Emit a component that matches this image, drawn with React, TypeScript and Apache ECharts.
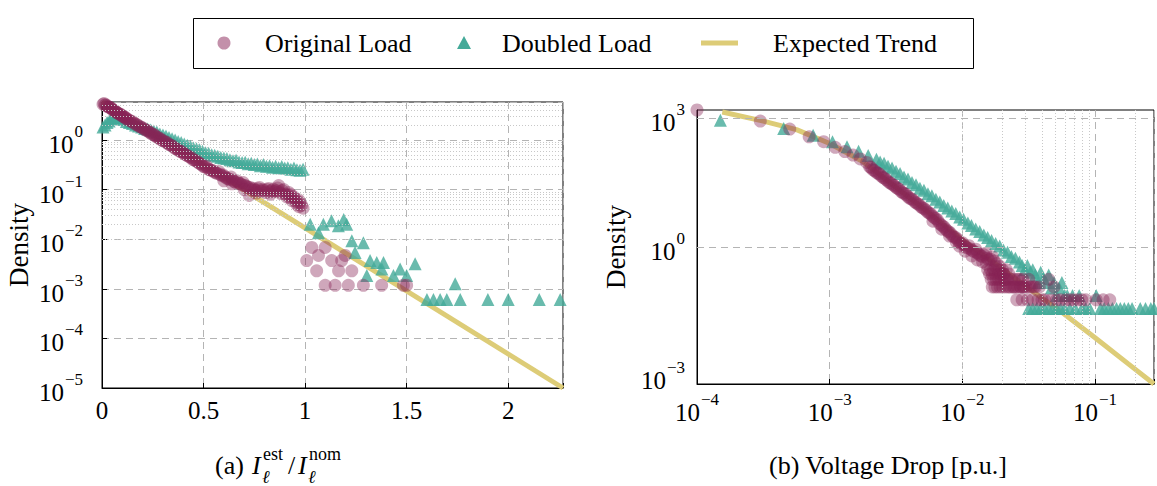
import React, { useEffect, useRef } from "react";
import * as echarts from "echarts";

// ---------- data: panel (a) current ratio I_est / I_nom ----------
const currentOriginal: [number, number][] = [
  [0.005, 5.2], [0.01, 5.4], [0.015, 5.0], [0.02, 5.1], [0.025, 4.8], [0.03, 4.6], [0.035, 4.57], [0.04, 4.5],
  [0.045, 4.37], [0.05, 4.1], [0.055, 3.98], [0.06, 3.9], [0.065, 3.8], [0.07, 3.6], [0.075, 3.55], [0.08, 3.4],
  [0.085, 3.31], [0.09, 3.3], [0.095, 3.16], [0.1, 3.0], [0.105, 2.95], [0.11, 2.9], [0.115, 2.82], [0.12, 2.65],
  [0.125, 2.63], [0.1325, 2.5], [0.14, 2.4], [0.1475, 2.35], [0.155, 2.24], [0.1625, 2.1], [0.17, 2.04],
  [0.1775, 1.97], [0.185, 1.86], [0.1925, 1.8], [0.2, 1.74], [0.2075, 1.64], [0.215, 1.58], [0.2225, 1.55],
  [0.23, 1.48], [0.2375, 1.38], [0.245, 1.32], [0.2525, 1.3], [0.26, 1.23], [0.2675, 1.15], [0.275, 1.12],
  [0.2825, 1.08], [0.29, 1.02], [0.2975, 0.97], [0.305, 0.95], [0.3125, 0.9], [0.32, 0.89], [0.3275, 0.82],
  [0.335, 0.79], [0.3425, 0.77], [0.35, 0.74], [0.3575, 0.68], [0.365, 0.66], [0.3725, 0.64], [0.38, 0.6],
  [0.3875, 0.58], [0.395, 0.575], [0.4025, 0.53], [0.41, 0.51], [0.4175, 0.49], [0.425, 0.47], [0.4325, 0.45],
  [0.44, 0.44], [0.4475, 0.4], [0.455, 0.39], [0.4625, 0.38], [0.47, 0.36], [0.4775, 0.34], [0.485, 0.33],
  [0.4925, 0.31], [0.5, 0.29], [0.5075, 0.285], [0.515, 0.295], [0.5225, 0.26], [0.53, 0.25], [0.5375, 0.245],
  [0.545, 0.24], [0.5525, 0.225], [0.56, 0.22], [0.5675, 0.21], [0.575, 0.23], [0.5825, 0.2], [0.59, 0.19],
  [0.5975, 0.195], [0.605, 0.18], [0.6125, 0.17], [0.62, 0.166], [0.6275, 0.16], [0.635, 0.178], [0.6425, 0.155],
  [0.65, 0.145], [0.6575, 0.14], [0.665, 0.15], [0.6725, 0.135], [0.68, 0.132], [0.6875, 0.125], [0.695, 0.138],
  [0.7025, 0.12], [0.71, 0.117], [0.7175, 0.112], [0.725, 0.076], [0.73, 0.11], [0.7375, 0.1], [0.745, 0.105],
  [0.7525, 0.098], [0.76, 0.095], [0.7675, 0.104], [0.775, 0.11], [0.7825, 0.093], [0.79, 0.1], [0.7975, 0.096],
  [0.805, 0.087], [0.8125, 0.1], [0.82, 0.105], [0.8275, 0.09], [0.835, 0.095], [0.8425, 0.102], [0.85, 0.091],
  [0.8575, 0.096], [0.865, 0.107], [0.8725, 0.09], [0.88, 0.083], [0.8875, 0.095], [0.895, 0.1], [0.9025, 0.08],
  [0.91, 0.071], [0.915, 0.078], [0.92, 0.087], [0.9275, 0.068], [0.935, 0.06], [0.9425, 0.072], [0.95, 0.066],
  [0.955, 0.058], [0.96, 0.05], [0.9675, 0.062], [0.975, 0.055], [0.9825, 0.048], [0.99, 0.042],
  [0.6, 0.15], [0.64, 0.13], [0.7, 0.1], [0.76, 0.085], [0.83, 0.08], [0.87, 0.12], [0.93, 0.078], [0.97, 0.045],
  [1.008, 0.0037], [1.033, 0.0068], [1.057, 0.0023], [1.066, 0.0047], [1.099, 0.0068], [1.131, 0.0037],
  [1.165, 0.0023], [1.18, 0.0037], [1.197, 0.0047], [1.23, 0.0023], [1.099, 0.00117], [1.148, 0.00117],
  [1.213, 0.00117], [1.287, 0.00117], [1.377, 0.00117], [1.484, 0.00117], [1.5, 0.00117],
];

const currentDoubled: [number, number][] = [
  [0.005, 1.82], [0.015, 2.0], [0.025, 2.24], [0.035, 2.4], [0.045, 2.63], [0.055, 2.75], [0.065, 2.88],
  [0.075, 2.95], [0.085, 2.82], [0.095, 2.75], [0.105, 2.57], [0.12, 2.34], [0.135, 2.24], [0.15, 2.14],
  [0.165, 2.0], [0.18, 1.9], [0.195, 1.82], [0.21, 1.7], [0.225, 1.66], [0.24, 1.58], [0.255, 1.51],
  [0.27, 1.45], [0.285, 1.32], [0.3, 1.26], [0.315, 1.2], [0.33, 1.12], [0.345, 1.05], [0.36, 1.0],
  [0.375, 0.93], [0.39, 0.89], [0.405, 0.83], [0.42, 0.78], [0.435, 0.74], [0.45, 0.69], [0.465, 0.66],
  [0.48, 0.63], [0.495, 0.59], [0.51, 0.55], [0.525, 0.54], [0.54, 0.5], [0.555, 0.49], [0.57, 0.47],
  [0.585, 0.44], [0.6, 0.43], [0.615, 0.42], [0.63, 0.4], [0.645, 0.38], [0.66, 0.39], [0.675, 0.36],
  [0.69, 0.35], [0.705, 0.355], [0.72, 0.33], [0.735, 0.34], [0.75, 0.32], [0.765, 0.325], [0.78, 0.3],
  [0.795, 0.32], [0.81, 0.295], [0.825, 0.3], [0.84, 0.28], [0.855, 0.295], [0.87, 0.275], [0.885, 0.29],
  [0.9, 0.27], [0.915, 0.275], [0.93, 0.257], [0.945, 0.27], [0.96, 0.25], [0.975, 0.245], [0.99, 0.257],
  [1.025, 0.02], [1.066, 0.0135], [1.09, 0.02], [1.13, 0.0234], [1.164, 0.0186], [1.19, 0.025],
  [1.205, 0.02], [1.23, 0.0093], [1.287, 0.0085], [1.246, 0.0054], [1.32, 0.0037], [1.353, 0.0034],
  [1.386, 0.0034], [1.304, 0.00186], [1.378, 0.0025], [1.435, 0.00186], [1.468, 0.0025], [1.5, 0.00186],
  [1.542, 0.0032], [1.739, 0.00126], [1.6, 0.00061], [1.632, 0.00061], [1.665, 0.00061], [1.698, 0.00061],
  [1.764, 0.00061], [1.9, 0.00061], [2.0, 0.00061], [2.153, 0.00061], [2.256, 0.00061],
];

const currentTrend: [number, number][] = [
  [0, 5.8],
  [2.27, 1e-5],
];

// ---------- data: panel (b) voltage drop [p.u.] ----------
const voltageOriginal: [number, number][] = [
  [1.0e-4, 1540], [3.0e-4, 851], [5.0e-4, 555], [7.0e-4, 367], [9.0e-4, 282], [1.1e-3, 209], [1.3e-3, 166],
  [1.5e-3, 138], [1.7e-3, 112], [1.9e-3, 93],
  [2.0e-3, 74], [2.05e-3, 70], [2.11e-3, 63], [2.17e-3, 60], [2.24e-3, 55], [2.3e-3, 52], [2.37e-3, 50],
  [2.44e-3, 45], [2.51e-3, 41.7], [2.58e-3, 40], [2.66e-3, 37], [2.74e-3, 34], [2.82e-3, 31.6], [2.9e-3, 30],
  [2.99e-3, 28.2], [3.07e-3, 26.5], [3.16e-3, 24.5], [3.25e-3, 23], [3.35e-3, 21.9], [3.45e-3, 19.5],
  [3.55e-3, 18.2], [3.65e-3, 17.8], [3.76e-3, 16.6], [3.87e-3, 15], [3.98e-3, 13.8], [4.1e-3, 13.3],
  [4.22e-3, 12.6], [4.35e-3, 11.4], [4.47e-3, 10.7], [4.6e-3, 10.2], [4.73e-3, 9.5], [4.87e-3, 8.6],
  [5.01e-3, 8.1], [5.16e-3, 7.8], [5.31e-3, 7.2], [5.46e-3, 6.5], [5.62e-3, 6.2], [5.79e-3, 5.8],
  [5.96e-3, 5.2], [6.13e-3, 4.8], [6.31e-3, 4.6], [6.5e-3, 4.2], [6.68e-3, 3.6], [6.88e-3, 3.3],
  [7.08e-3, 3.1], [7.29e-3, 2.9], [7.5e-3, 2.57], [7.72e-3, 2.35], [7.94e-3, 2.24], [8.17e-3, 2.05],
  [8.41e-3, 1.82], [8.66e-3, 1.7], [8.91e-3, 1.66], [9.17e-3, 1.5], [9.44e-3, 1.32], [9.72e-3, 1.22],
  [0.01, 1.26], [0.0103, 1.12], [0.0106, 1.0], [0.0109, 0.95], [0.0112, 1.07], [0.0115, 0.9], [0.0119, 0.83],
  [0.0122, 0.78], [0.0126, 0.89], [0.0129, 0.74], [0.0133, 0.68], [0.0137, 0.63], [0.0141, 0.6], [0.0145, 0.66],
  [0.015, 0.72], [0.0154, 0.55], [0.0158, 0.5], [0.0163, 0.52], [0.0168, 0.59],
  [6.0e-3, 4.0], [7.0e-3, 2.6], [8.0e-3, 1.8], [9.0e-3, 1.3], [0.0095, 1.05], [0.0105, 0.8], [0.0118, 0.62],
  [0.013, 0.5], [0.0142, 0.45], [0.0152, 0.4],
  [0.0155, 0.295], [0.0163, 0.295], [0.0172, 0.295], [0.016, 0.236], [0.0168, 0.236], [0.0177, 0.236],
  [0.0188, 0.236], [0.0205, 0.236], [0.0165, 0.177], [0.0172, 0.177], [0.018, 0.177], [0.0188, 0.177],
  [0.0197, 0.177], [0.0206, 0.177], [0.0216, 0.177], [0.026, 0.177], [0.0285, 0.177], [0.0168, 0.118],
  [0.0176, 0.118], [0.0184, 0.118], [0.0193, 0.118], [0.0202, 0.118], [0.0212, 0.118], [0.0222, 0.118],
  [0.0245, 0.118], [0.0275, 0.118], [0.029, 0.118], [0.032, 0.118], [0.0345, 0.118],
  [0.0174, 0.471], [0.0178, 0.353], [0.0182, 0.412], [0.0186, 0.295], [0.0191, 0.353], [0.0195, 0.236],
  [0.02, 0.295], [0.0204, 0.236], [0.0209, 0.177], [0.0214, 0.295], [0.0219, 0.177], [0.0224, 0.236],
  [0.0229, 0.118], [0.0234, 0.177], [0.024, 0.118], [0.0245, 0.177], [0.0251, 0.118], [0.0257, 0.0589],
  [0.0263, 0.118], [0.0269, 0.177], [0.0275, 0.118], [0.0282, 0.0589], [0.0288, 0.118], [0.0302, 0.118],
  [0.0309, 0.0589], [0.0316, 0.177], [0.0331, 0.118], [0.0339, 0.0589], [0.0355, 0.118], [0.0372, 0.0589],
  [0.038, 0.118], [0.0398, 0.0589], [0.0417, 0.0589], [0.0447, 0.177], [0.049, 0.118], [0.0468, 0.0589],
  [0.0513, 0.0589], [0.055, 0.0589], [0.0603, 0.0589], [0.0646, 0.0589], [0.0692, 0.0589], [0.0741, 0.0589],
  [0.0794, 0.0589], [0.0851, 0.0589], [0.102, 0.0589], [0.115, 0.0589], [0.129, 0.0589],
];

const voltageDoubled: [number, number][] = [
  [1.5e-4, 891], [4.5e-4, 575], [7.5e-4, 398], [1.05e-3, 282], [1.35e-3, 214], [1.65e-3, 170], [1.95e-3, 135],
  [2.25e-3, 110], [2.4e-3, 95], [2.57e-3, 89], [2.75e-3, 76], [2.95e-3, 69], [3.16e-3, 57.5], [3.39e-3, 51],
  [3.63e-3, 42.7], [3.89e-3, 38], [4.17e-3, 31.6], [4.47e-3, 28.2], [4.79e-3, 23.4], [5.13e-3, 20.9],
  [5.5e-3, 17.4], [5.89e-3, 15.5], [6.31e-3, 12.9], [6.76e-3, 11.2], [7.24e-3, 9.3], [7.76e-3, 8.1],
  [8.32e-3, 6.9], [8.91e-3, 6.0], [9.55e-3, 5.0], [0.0102, 4.4], [0.011, 3.6], [0.0117, 3.16], [0.0126, 2.63],
  [0.0135, 2.29], [0.0145, 1.9], [0.0155, 1.66], [0.0166, 1.41], [0.0178, 1.2], [0.0191, 1.05], [0.0204, 0.85],
  [0.0219, 0.76], [0.0234, 0.6], [0.0251, 0.55], [0.0269, 0.446], [0.0282, 0.372], [0.0295, 0.297],
  [0.0309, 0.372], [0.0324, 0.26], [0.0339, 0.297], [0.0355, 0.223], [0.0372, 0.149], [0.0389, 0.26],
  [0.0407, 0.186], [0.0427, 0.149], [0.0447, 0.223], [0.0468, 0.111], [0.049, 0.149], [0.0513, 0.0743],
  [0.0537, 0.111], [0.0562, 0.149], [0.0589, 0.0743], [0.0617, 0.0743], [0.0676, 0.0743], [0.0759, 0.0743],
  [0.102, 0.0743],
  [0.0316, 0.0372], [0.0339, 0.0372], [0.0363, 0.0372], [0.0389, 0.0372], [0.0417, 0.0372], [0.0447, 0.0372],
  [0.0479, 0.0372], [0.0513, 0.0372], [0.055, 0.0372], [0.0589, 0.0372], [0.0646, 0.0372], [0.0708, 0.0372],
  [0.0794, 0.0372], [0.0851, 0.0372], [0.0912, 0.0372], [0.11, 0.0372], [0.117, 0.0372], [0.126, 0.0372],
  [0.135, 0.0372], [0.145, 0.0372], [0.155, 0.0372], [0.166, 0.0372], [0.178, 0.0372], [0.19, 0.0372],
  [0.219, 0.0372], [0.24, 0.0372], [0.263, 0.0372], [0.278, 0.0372],
];

const voltageTrend: [number, number][] = [
  [1.55e-4, 1380], [3.16e-4, 851], [5.62e-4, 537], [1e-3, 255], [1.78e-3, 97.7], [3.16e-3, 24.5],
  [5.62e-3, 6.2], [0.01, 1.45], [0.0178, 0.4], [0.0316, 0.108], [0.0562, 0.0302], [0.1, 7.76e-3],
  [0.178, 1.91e-3], [0.278, 6.5e-4],
];

const seriesNames = ["Original Load", "Doubled Load", "Expected Trend"];

// ---------- styling ----------
const SERIF = '"Liberation Serif", "DejaVu Serif", serif';
const ROSE = "rgba(136, 34, 85, 0.5)";
const TEAL = "#44AA99";
const SAND = "#DDCC77";
const MAJOR_GRID = "#b4b4b4";
const MINOR_GRID = "#c8c8c8";
const FONT = 25;
const TEXT = 26;
const MARK = 13;

const powerRich = {
  b: { fontFamily: SERIF, fontSize: FONT, color: "#000", lineHeight: 34, verticalAlign: "bottom" },
  s: { fontFamily: SERIF, fontSize: 17, color: "#000", lineHeight: 20, verticalAlign: "top", padding: [0, 0, 0, 1] },
};

function powerLabel(v: number, step = 1): string {
  const e = Math.round(Math.log10(v));
  if (Math.abs(v / Math.pow(10, e) - 1) > 1e-6) return "";
  if (e % step !== 0) return "";
  const exp = e < 0 ? "\u2212" + -e : String(e);
  return `{b|10}{s|${exp}}`;
}

// 2..9 x 10^k positions between lo and hi for dotted minor grid lines
function minorLogLines(lo: number, hi: number): number[] {
  const out: number[] = [];
  for (let k = Math.floor(Math.log10(lo)); k <= Math.ceil(Math.log10(hi)); k++) {
    for (let m = 2; m <= 9; m++) {
      const v = m * Math.pow(10, k);
      if (v > lo && v < hi) out.push(v);
    }
  }
  return out;
}

const axisBlack = { show: true, lineStyle: { color: "#000", width: 1 } };
const dashed = { show: true, lineStyle: { color: MAJOR_GRID, type: [7, 5], width: 1 } };

function gridLineSeries(xi: number, lines: { xAxis?: number; yAxis?: number }[], dotted: boolean) {
  return {
    type: "scatter",
    xAxisIndex: xi,
    yAxisIndex: xi,
    data: [],
    silent: true,
    z: 1,
    markLine: {
      silent: true,
      animation: false,
      symbol: ["none", "none"],
      label: { show: false },
      lineStyle: dotted
        ? { color: MINOR_GRID, type: [1, 2], width: 1 }
        : { color: MAJOR_GRID, type: [7, 5], width: 1 },
      emphasis: { disabled: true },
      data: lines,
    },
  };
}

function txt(x: number, y: number, text: string, size: number, extra: Record<string, unknown> = {}) {
  return {
    type: "text",
    x,
    y,
    silent: true,
    style: { text, font: `${size}px ${SERIF}`, fill: "#000", textVerticalAlign: "middle", ...extra },
  };
}

export default function App() {
  const ref = useRef<HTMLDivElement>(null);

  useEffect(() => {
    if (!ref.current) return;
    const chart = echarts.init(ref.current, undefined, { renderer: "svg" });

    const leftMinor = minorLogLines(1e-5, 5.8).map((v) => ({ yAxis: v }));
    const rightMinor = minorLogLines(1e-4, 0.278).map((v) => ({ xAxis: v }));
    const rightMajorY = [1e-3, 1, 1e3].map((v) => ({ yAxis: v }));

    const legendY = 43;

    const option = {
      animation: false,
      textStyle: { fontFamily: SERIF },
      grid: [
        { left: 102, top: 102, width: 461, height: 286, show: true, borderColor: "#000", borderWidth: 1 },
        { left: 697, top: 110, width: 458, height: 274, show: true, borderColor: "#000", borderWidth: 1 },
      ],
      xAxis: [
        {
          type: "value",
          gridIndex: 0,
          min: 0,
          max: 2.27,
          interval: 0.5,
          axisLine: axisBlack,
          axisTick: { show: true, inside: true, length: 5, lineStyle: { color: "#000" } },
          axisLabel: {
            margin: 10,
            fontFamily: SERIF,
            fontSize: FONT,
            color: "#000",
            lineHeight: 25,
            formatter: (v: number) => (Math.abs(v * 2 - Math.round(v * 2)) < 1e-6 ? String(v) : ""),
          },
          splitLine: dashed,
        },
        {
          type: "log",
          logBase: 10,
          gridIndex: 1,
          min: 1e-4,
          max: 0.278,
          axisLine: axisBlack,
          axisTick: { show: true, inside: true, length: 5, lineStyle: { color: "#000" } },
          axisLabel: { margin: 7, formatter: (v: number) => powerLabel(v), rich: powerRich },
          splitLine: dashed,
        },
      ],
      yAxis: [
        {
          type: "log",
          logBase: 10,
          gridIndex: 0,
          min: 1e-5,
          max: 5.8,
          name: "Density",
          nameLocation: "middle",
          nameGap: 70,
          nameTextStyle: { fontFamily: SERIF, fontSize: TEXT + 1, color: "#000" },
          axisLine: axisBlack,
          axisTick: { show: true, inside: true, length: 5, lineStyle: { color: "#000" } },
          axisLabel: { margin: 19, formatter: (v: number) => powerLabel(v), rich: powerRich },
          splitLine: dashed,
        },
        {
          type: "log",
          logBase: 10,
          gridIndex: 1,
          min: 6.5e-4,
          max: 1540,
          name: "Density",
          nameLocation: "middle",
          nameGap: 68,
          nameTextStyle: { fontFamily: SERIF, fontSize: TEXT + 1, color: "#000" },
          axisLine: axisBlack,
          axisTick: { show: false },
          axisLabel: { margin: 12, formatter: (v: number) => powerLabel(v, 3), rich: powerRich },
          splitLine: { show: false },
        },
      ],
      series: [
        gridLineSeries(0, leftMinor, true),
        gridLineSeries(1, rightMinor, true),
        gridLineSeries(1, rightMajorY, false),
        {
          name: seriesNames[2],
          type: "line",
          xAxisIndex: 0,
          yAxisIndex: 0,
          z: 2,
          data: currentTrend,
          symbol: "none",
          showSymbol: false,
          lineStyle: { color: SAND, width: 5 },
          itemStyle: { color: SAND },
        },
        {
          name: seriesNames[1],
          type: "scatter",
          xAxisIndex: 0,
          yAxisIndex: 0,
          z: 3,
          data: currentDoubled,
          symbol: "triangle",
          symbolSize: MARK,
          clip: false,
          itemStyle: { color: TEAL },
        },
        {
          name: seriesNames[0],
          type: "scatter",
          xAxisIndex: 0,
          yAxisIndex: 0,
          z: 4,
          data: currentOriginal,
          symbol: "circle",
          symbolSize: MARK,
          clip: false,
          itemStyle: { color: ROSE },
        },
        {
          name: seriesNames[2],
          type: "line",
          xAxisIndex: 1,
          yAxisIndex: 1,
          z: 2,
          data: voltageTrend,
          symbol: "none",
          showSymbol: false,
          lineStyle: { color: SAND, width: 5 },
          itemStyle: { color: SAND },
        },
        {
          name: seriesNames[1],
          type: "scatter",
          xAxisIndex: 1,
          yAxisIndex: 1,
          z: 3,
          data: voltageDoubled,
          symbol: "triangle",
          symbolSize: MARK,
          clip: false,
          itemStyle: { color: TEAL },
        },
        {
          name: seriesNames[0],
          type: "scatter",
          xAxisIndex: 1,
          yAxisIndex: 1,
          z: 4,
          data: voltageOriginal,
          symbol: "circle",
          symbolSize: MARK,
          clip: false,
          itemStyle: { color: ROSE },
        },
      ],
      graphic: [
        // legend box with the three keys
        {
          type: "rect",
          silent: true,
          shape: { x: 193.5, y: 18.5, width: 780, height: 50 },
          style: { fill: "#fff", stroke: "#000", lineWidth: 1 },
        },
        { type: "circle", silent: true, shape: { cx: 224, cy: legendY, r: 6.5 }, style: { fill: ROSE } },
        txt(265, legendY, seriesNames[0], TEXT),
        {
          type: "polygon",
          silent: true,
          shape: { points: [[457, legendY + 6], [471, legendY + 6], [464, legendY - 7]] },
          style: { fill: TEAL },
        },
        txt(502, legendY, seriesNames[1], TEXT),
        {
          type: "line",
          silent: true,
          shape: { x1: 701, y1: legendY, x2: 738, y2: legendY },
          style: { stroke: SAND, lineWidth: 5 },
        },
        txt(773, legendY, seriesNames[2], TEXT),
        // caption (a): I_ℓ^est / I_ℓ^nom
        txt(215, 465, "(a)", TEXT),
        txt(252, 465, "I", TEXT, { font: `italic ${TEXT}px ${SERIF}` }),
        txt(263, 454, "est", 18),
        txt(262, 477, "\u2113", 18, { font: `italic 18px ${SERIF}` }),
        txt(288, 465, "/", TEXT),
        txt(298, 465, "I", TEXT, { font: `italic ${TEXT}px ${SERIF}` }),
        txt(309, 454, "nom", 18),
        txt(308, 477, "\u2113", 18, { font: `italic 18px ${SERIF}` }),
        // caption (b)
        txt(888, 465, "(b) Voltage Drop [p.u.]", TEXT, { textAlign: "center" }),
      ],
    };

    chart.setOption(option as any);
    return () => chart.dispose();
  }, []);

  return (
    <div
      ref={ref}
      style={{ position: "fixed", left: 0, top: 0, width: 1157, height: 486, background: "#fff" }}
    />
  );
}
